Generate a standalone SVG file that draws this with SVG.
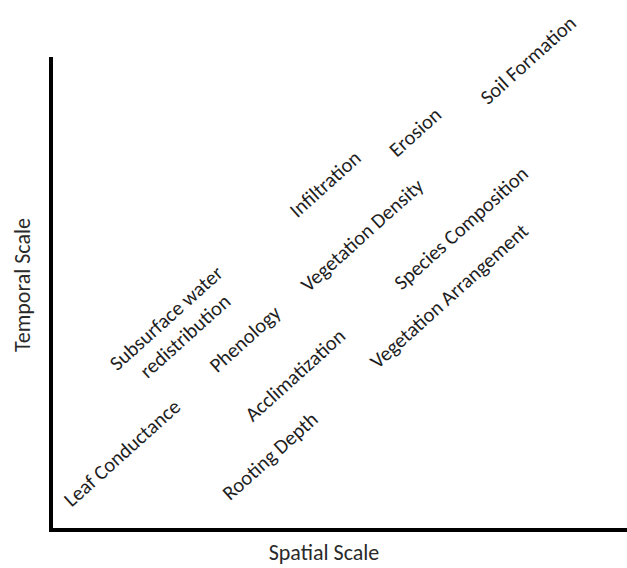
<svg xmlns="http://www.w3.org/2000/svg" width="627" height="568" viewBox="0 0 627 568">
<style>
  .lbl { font-family: Carlito, Lato, "Open Sans", sans-serif; font-size: 20.5px; fill: #1e1e1e; text-anchor: middle; dominant-baseline: central; }
  .ax { font-family: Carlito, Lato, "Open Sans", sans-serif; font-size: 22px; fill: #2a2a2a; text-anchor: middle; }
  .axis { stroke: #000; stroke-width: 4; fill: none; }
</style>
<rect width="627" height="568" fill="#fff"/>
<g id="connectors">
  <path class="axis" d="M51,57 V530 H627"/>
</g>
<g id="axis-labels">
  <text class="ax" transform="translate(30,285) rotate(-90)">Temporal Scale</text>
  <text class="ax" x="324" y="560">Spatial Scale</text>
</g>
<g id="soil-formation"><text class="lbl" transform="translate(528,60) rotate(-42)">Soil Formation</text></g>
<g id="erosion"><text class="lbl" transform="translate(415,132) rotate(-42)">Erosion</text></g>
<g id="infiltration"><text class="lbl" transform="translate(325,184) rotate(-42)">Infiltration</text></g>
<g id="vegetation-density"><text class="lbl" transform="translate(362,235) rotate(-42)">Vegetation Density</text></g>
<g id="species-composition"><text class="lbl" transform="translate(461,228) rotate(-42)">Species Composition</text></g>
<g id="vegetation-arrangement"><text class="lbl" transform="translate(449,296) rotate(-42)">Vegetation Arrangement</text></g>
<g id="subsurface-water"><text class="lbl" transform="translate(166,318) rotate(-42)">Subsurface water</text><text class="lbl" transform="translate(185,336) rotate(-42)">redistribution</text></g>
<g id="phenology"><text class="lbl" transform="translate(245,339) rotate(-42)">Phenology</text></g>
<g id="acclimatization"><text class="lbl" transform="translate(295,375) rotate(-42)">Acclimatization</text></g>
<g id="leaf-conductance"><text class="lbl" transform="translate(122,453) rotate(-42)">Leaf Conductance</text></g>
<g id="rooting-depth"><text class="lbl" transform="translate(270,456) rotate(-42)">Rooting Depth</text></g>
</svg>
